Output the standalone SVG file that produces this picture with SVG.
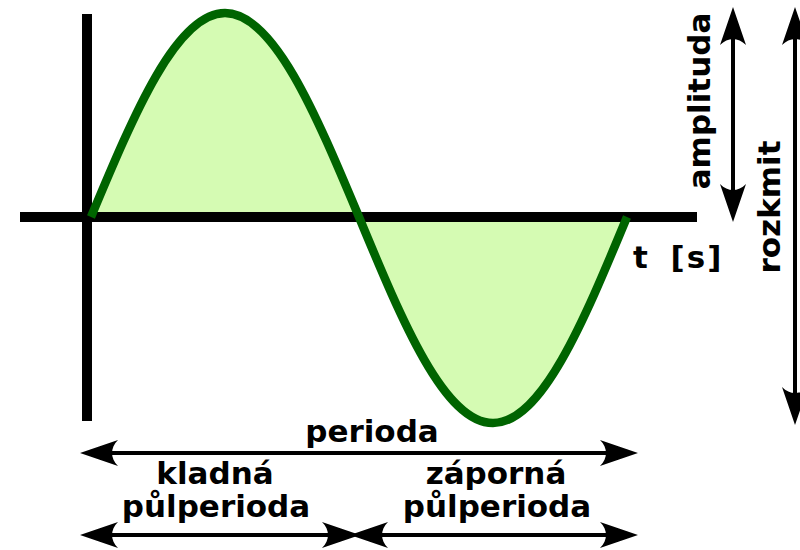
<svg xmlns="http://www.w3.org/2000/svg" width="800" height="550" viewBox="0 0 800 550">
  <style>
    .lbl { font-family: "DejaVu Sans", "Liberation Sans", sans-serif; font-weight: bold; font-size: 31px; fill: #000; }
    .axis { stroke: #000; stroke-width: 10; fill: none; }
    .dim { stroke: #000; stroke-width: 4; fill: none; marker-start: url(#ah); marker-end: url(#ah); }
  </style>
  <defs>
    <marker id="ah" markerUnits="userSpaceOnUse" markerWidth="60" markerHeight="40" refX="0" refY="0" orient="auto-start-reverse" overflow="visible">
      <path d="M 19,0 L -19,-13 C -11,-5 -11,5 -19,13 Z" fill="#000"/>
    </marker>
  </defs>
  <rect width="800" height="550" fill="#fff"/>

  <g id="wave-fill">
    <path d="M 91,217 C 134.7,112.5 176.5,13 225,13 C 273.5,13 315.3,112.5 359,217 C 402.7,322.5 444.5,423 493,423 C 541.5,423 583.3,322.5 627,217 Z" fill="#d5fbb3"/>
  </g>

  <g id="axes">
    <line class="axis" x1="87" y1="14" x2="87" y2="421"/>
    <line class="axis" x1="20" y1="217" x2="697" y2="217"/>
  </g>

  <g id="wave">
    <path d="M 91,217 C 134.7,112.5 176.5,13 225,13 C 273.5,13 315.3,112.5 359,217 C 402.7,322.5 444.5,423 493,423 C 541.5,423 583.3,322.5 627,217" fill="none" stroke="#006400" stroke-width="8.5" stroke-linejoin="round"/>
  </g>

  <g id="connectors">
    <line class="dim" x1="733" y1="26" x2="733" y2="203"/>
    <line class="dim" x1="795" y1="26" x2="795" y2="406"/>
    <line class="dim" x1="99" y1="453" x2="619" y2="453"/>
    <line class="dim" x1="99" y1="535" x2="341" y2="535"/>
    <line class="dim" x1="369" y1="535" x2="619" y2="535"/>
  </g>

  <g id="label-amplituda">
    <text class="lbl" transform="translate(710,101) rotate(-90)" text-anchor="middle">amplituda</text>
  </g>
  <g id="label-rozkmit">
    <text class="lbl" transform="translate(780,207) rotate(-90)" text-anchor="middle">rozkmit</text>
  </g>
  <g id="label-t">
    <text class="lbl" x="633" y="268" letter-spacing="2" word-spacing="8">t [s]</text>
  </g>
  <g id="label-perioda">
    <text class="lbl" x="372" y="442" text-anchor="middle">perioda</text>
  </g>
  <g id="label-kladna">
    <text class="lbl" x="215" y="484" text-anchor="middle">kladná</text>
    <text class="lbl" x="216" y="517" text-anchor="middle">půlperioda</text>
  </g>
  <g id="label-zaporna">
    <text class="lbl" x="496" y="484" text-anchor="middle">záporná</text>
    <text class="lbl" x="497" y="517" text-anchor="middle">půlperioda</text>
  </g>
</svg>
